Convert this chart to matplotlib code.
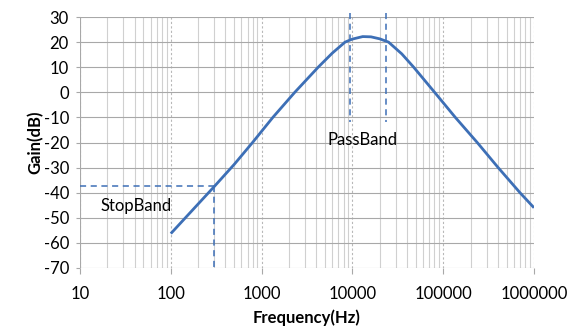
import matplotlib.pyplot as plt
from matplotlib.ticker import FixedLocator, LogLocator, NullFormatter
import numpy as np

# gain curve
freq = [100, 200, 300, 500, 795, 1330, 2320, 4200, 6000, 8300, 10000, 13000,
        16000, 20000, 25000, 35000, 47300, 80400, 136000, 237000, 403000, 701000, 1000000]
gain = [-56.3, -44.5, -37.6, -28.7, -20, -10, 0, 10, 15.6, 20, 21.2, 22.2,
        22.1, 21.3, 20, 15.3, 10, 0, -10, -20, -30, -40, -46]

stop_f, stop_g = 300, -37.5
pass_f = [9300, 23200]
pass_top, pass_bottom = 31.5, -12

x_ticks = [10, 100, 1000, 10000, 100000, 1000000]
y_ticks = list(range(-70, 31, 10))

blue = '#3d6fb6'
plt.rcParams['font.family'] = ['Lato', 'DejaVu Sans']
plt.rcParams['axes.unicode_minus'] = False

fig = plt.figure(figsize=(5.87, 3.31), dpi=100)
ax = fig.add_axes([80 / 587, 63 / 331, 454 / 587, 251 / 331])

ax.set_xscale('log')
ax.set_xlim(10, 1000000)
ax.set_ylim(-70, 30)

# grid: solid minors, dotted decades, solid horizontals
ax.xaxis.set_major_locator(FixedLocator(x_ticks))
ax.xaxis.set_minor_locator(LogLocator(base=10, subs=np.arange(2, 10)))
ax.xaxis.set_minor_formatter(NullFormatter())
ax.set_xticklabels([str(t) for t in x_ticks])
ax.set_yticks(y_ticks)
ax.grid(which='minor', axis='x', color='#d0d0d0', lw=0.8)
ax.grid(which='major', axis='x', color='#b8b8b8', lw=0.8, ls=(0, (2, 2)))
ax.grid(which='major', axis='y', color='#a8a8a8', lw=0.8)
for s in ax.spines.values():
    s.set_visible(False)
ax.tick_params(axis='x', which='major', length=4, color='#a8a8a8', pad=9, labelsize=12)
ax.tick_params(axis='x', which='minor', length=0)
ax.tick_params(axis='y', length=3, color='#a8a8a8', pad=5, labelsize=12)
ax.axvline(10, color='#a8a8a8', lw=0.8)

ax.plot(freq, gain, color=blue, lw=2.0, solid_capstyle='butt')

# stop band markers
ax.plot([10, stop_f], [stop_g, stop_g], color=blue, lw=1.1, ls=(0, (4, 3)))
ax.plot([stop_f, stop_f], [stop_g, -70], color=blue, lw=1.1, ls=(0, (4, 3)))
ax.text(41.5, -45.2, 'StopBand', ha='center', va='center', fontsize=12)

# pass band markers
for f in pass_f:
    ax.plot([f, f], [pass_top, pass_bottom], color=blue, lw=1.1, ls=(0, (4, 3)),
            clip_on=False)
ax.text(12800, -19.2, 'PassBand', ha='center', va='center', fontsize=12)

ax.set_xlabel('Frequency(Hz)', fontweight='bold', fontsize=12, labelpad=5)
ax.set_ylabel('Gain(dB)', fontweight='bold', fontsize=12, labelpad=0)

fig.savefig('out.png', dpi=100)
